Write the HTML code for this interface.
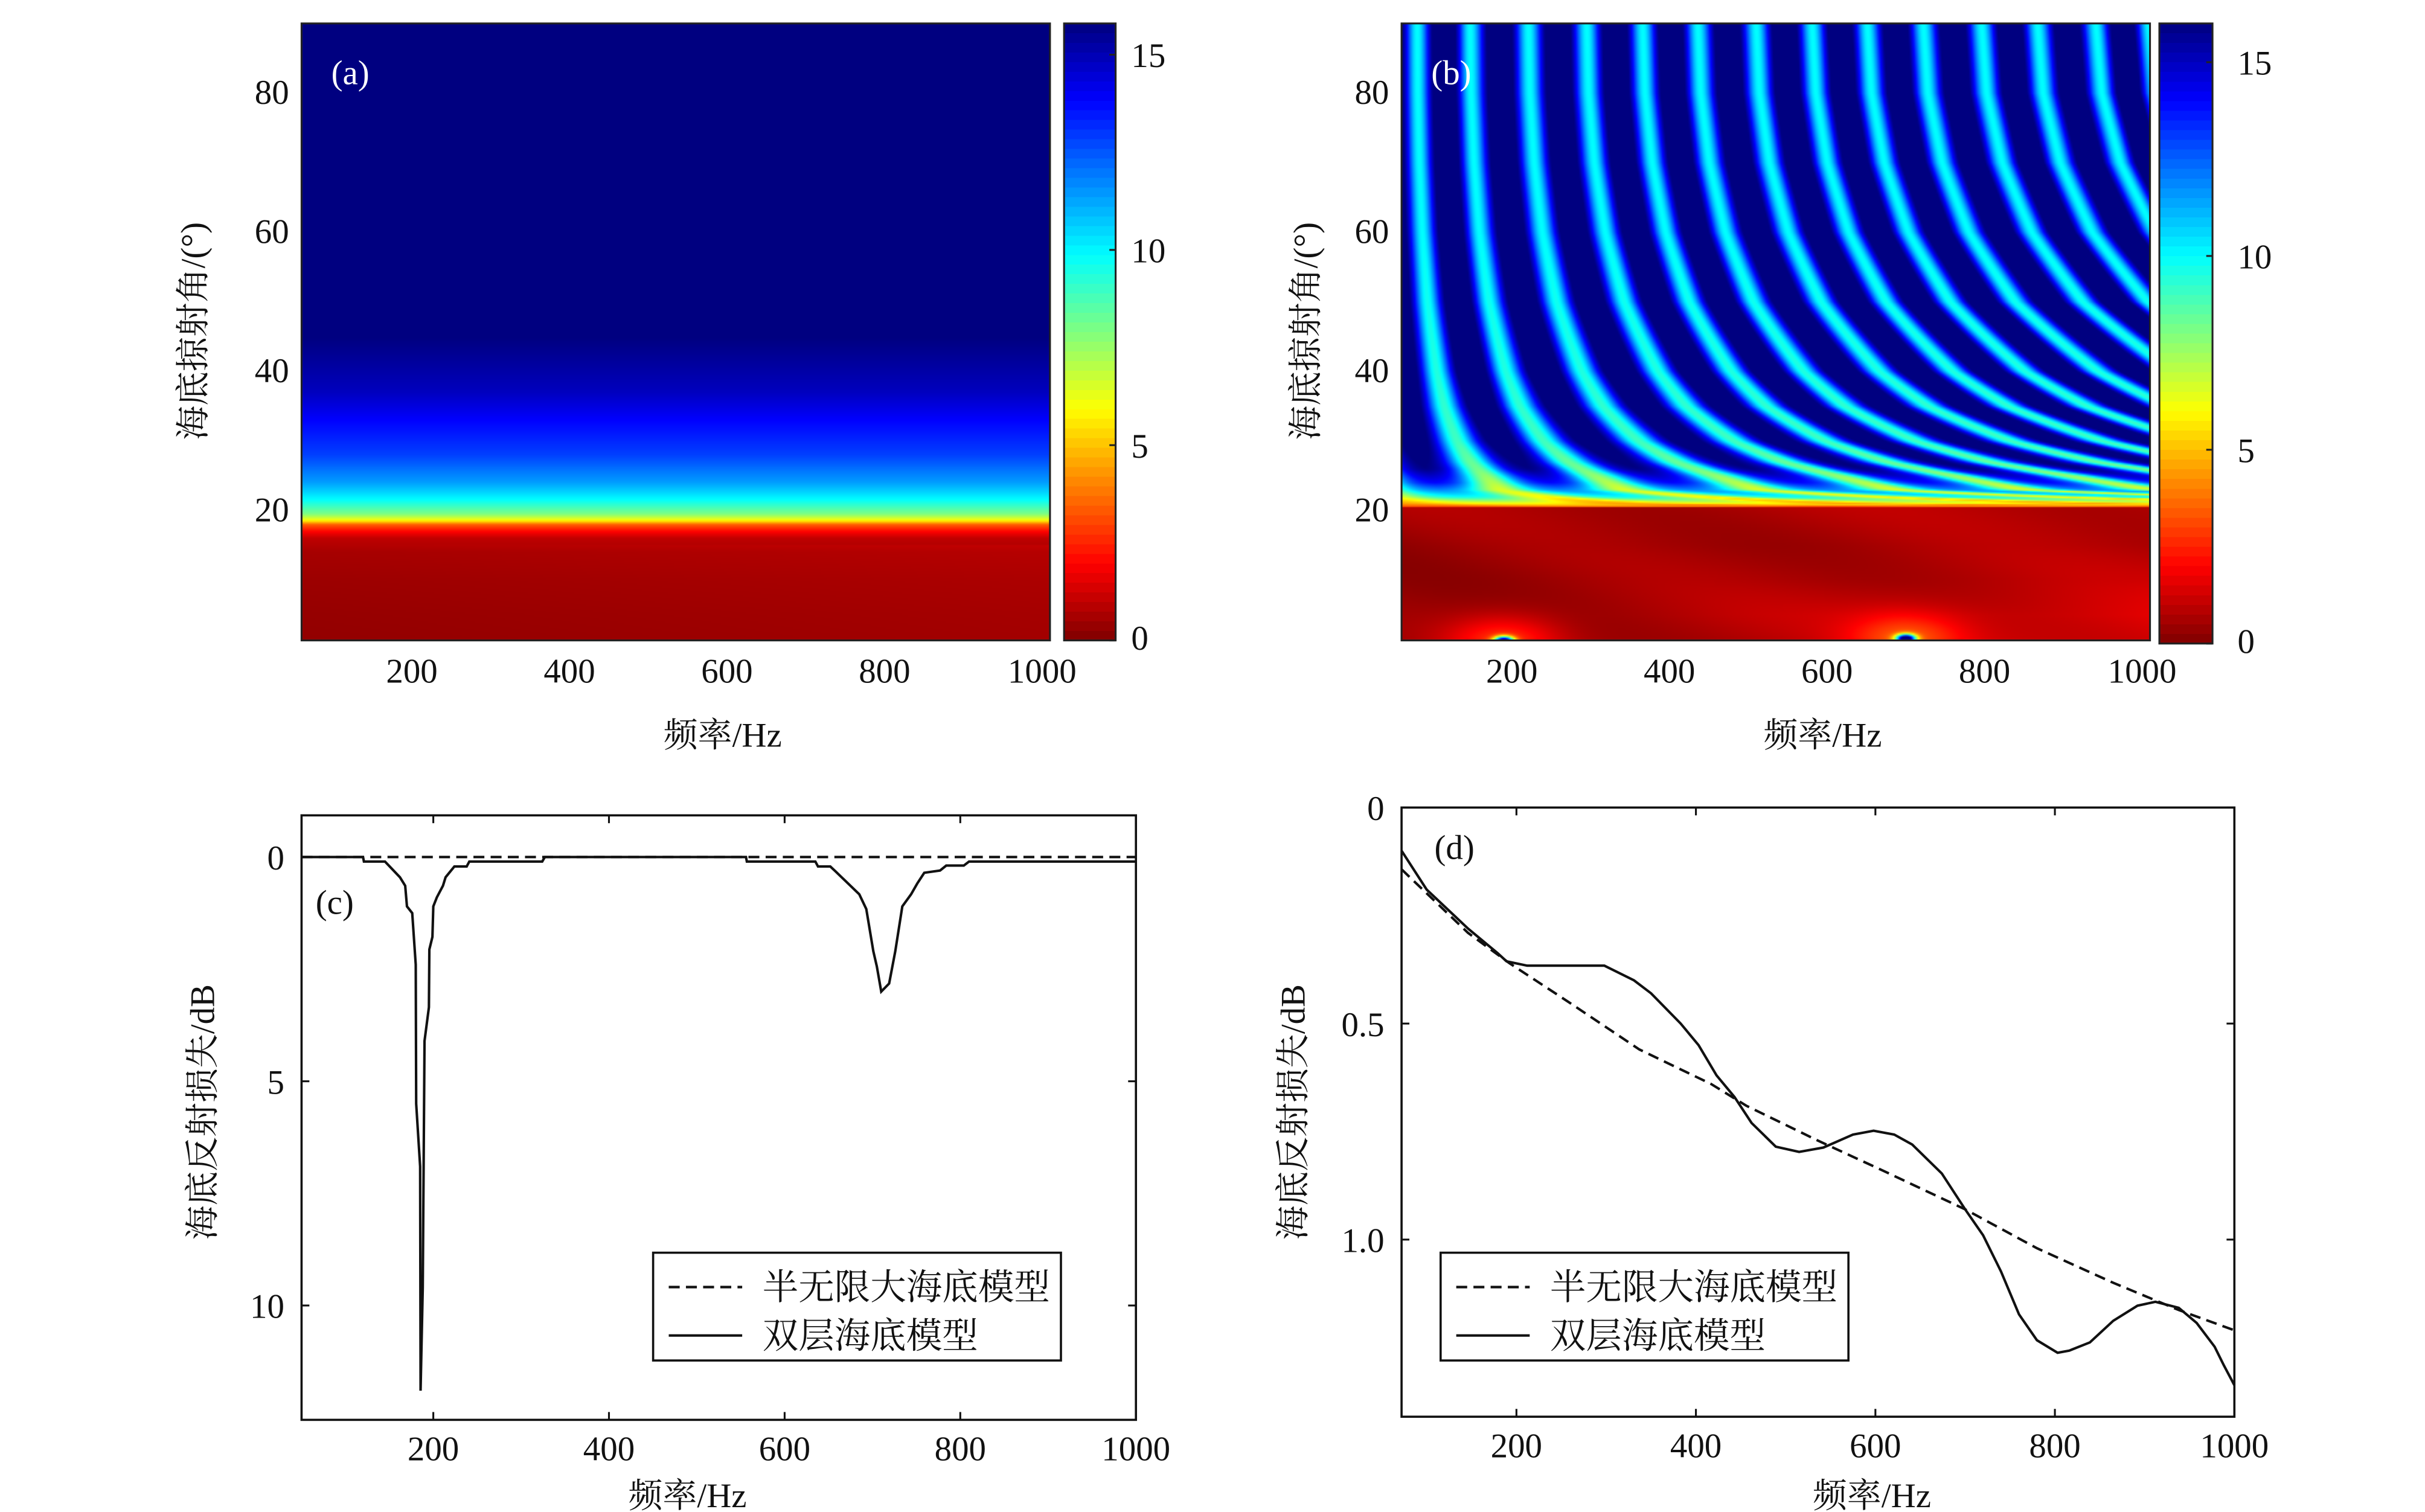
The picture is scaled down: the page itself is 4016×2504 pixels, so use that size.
<!DOCTYPE html>
<html><head><meta charset="utf-8"><style>
html,body{margin:0;padding:0;background:#fff}
#fig{position:relative;width:4016px;height:2504px;background:#fff;overflow:hidden}
canvas{position:absolute;image-rendering:auto}
svg{position:absolute;left:0;top:0}
text{font-family:"Liberation Serif","Noto Serif CJK SC",serif;fill:#111}
</style></head><body>
<div id="fig">
<svg id="ov" width="4016" height="2504" viewBox="0 0 1552 968" preserveAspectRatio="none"></svg>
</div>
<script>
// ---------- data ----------
const aAngles = [1.3, 5, 10, 14, 16, 17, 18, 18.6, 19.5, 21.6, 24, 28, 33, 37, 45, 90];
const aLoss   = [0.3, 0.35, 0.45, 0.6, 1.0, 2.0, 3.5, 6, 8, 10, 11.5, 13, 14, 15, 16, 17];
const bStripeTopHz = [80, 147, 221, 295, 366, 436, 510, 581, 651, 722, 796, 867, 941, 1008];
const bStretchAngles = [20.5, 21, 22, 23, 25, 27, 30, 35, 40, 50, 60, 70, 80, 90];
const bStretch = [0.1, 0.233, 0.334, 0.43, 0.481, 0.541, 0.612, 0.70, 0.765, 0.861, 0.926, 0.968, 0.992, 1];
const bAngles  = [20.5, 21, 22, 24, 26, 30, 40, 60, 90];
const bMinLoss = [3, 4.5, 6, 7.2, 8.2, 9, 9.5, 10, 10];
const bMaxLoss = [3.5, 6, 10, 14, 16, 17, 18, 18, 18];
const bLowAngles = [1, 5, 10, 15, 20.5];
const bLowLossLeft = [0.3, 0.35, 0.35, 0.4, 0.6];
const bLowLossRight = [1.4, 1.5, 1.0, 0.8, 0.9];
const spotHz = [190, 700];
const spotDeg = [1.3, 1.6];
const spotPeak = [15, 16];
const cbTicks = [0, 5, 10, 15];
const aYTicks = [20, 40, 60, 80];
const freqTicks = [200, 400, 600, 800, 1000];
const cHz = [50,120,121,145,162,168,170,176,180,180.5,185,185.5,188,190,195,195.5,199,200,204,211,214,224,238,241,324,327,556,557,635,638,652,658,685,693,697,701,705,710,719,726,734,744,751,759,777,784,804,810,1000];
const cLoss = [0,0,0.1,0.1,0.45,0.64,1.1,1.25,2.4,5.5,6.9,11.9,9.6,4.1,3.35,2.06,1.78,1.1,0.9,0.64,0.45,0.21,0.21,0.1,0.1,0,0,0.1,0.1,0.21,0.21,0.32,0.83,1.16,1.63,2.1,2.44,3.0,2.82,2.1,1.1,0.83,0.59,0.35,0.3,0.19,0.19,0.1,0.1];
const cHalfHz = [50, 1000];
const cHalfLoss = [0, 0];
const cYTicks = [0, 5, 10];
const dHz = [72,100,146,179,189,212,298,331,350,383,403,423,443,462,489,515,542,575,598,621,641,674,700,720,740,760,780,803,816,839,865,892,912,938,958,978,988,1000];
const dLoss = [0.10,0.19,0.28,0.337,0.356,0.366,0.366,0.40,0.43,0.50,0.55,0.62,0.67,0.73,0.785,0.797,0.787,0.757,0.748,0.757,0.78,0.847,0.93,0.99,1.074,1.173,1.233,1.262,1.257,1.238,1.188,1.153,1.144,1.158,1.193,1.248,1.29,1.337];
const dHalfHz = [72,146,192,258,337,417,456,535,608,700,780,865,938,1000];
const dHalfLoss = [0.143,0.29,0.36,0.45,0.56,0.64,0.69,0.77,0.84,0.93,1.02,1.10,1.163,1.21];
const dYTicks = [0, 0.5, 1.0];
const dYLabels = ["0", "0.5", "1.0"];

// ---------- helpers ----------
const S = 4016/1552;
const NS = "http://www.w3.org/2000/svg";
const ov = document.getElementById('ov');
function interp(xs, ys, x){
  if (x <= xs[0]) return ys[0];
  for (let i=1;i<xs.length;i++){ if (x <= xs[i]){ const t=(x-xs[i-1])/(xs[i]-xs[i-1]); return ys[i-1]+t*(ys[i]-ys[i-1]); } }
  return ys[ys.length-1];
}
function clamp(v){return Math.max(0,Math.min(1,v));}
function jet(t){ return [clamp(1.5-Math.abs(4*t-3)), clamp(1.5-Math.abs(4*t-2)), clamp(1.5-Math.abs(4*t-1))].map(c=>Math.round(c*255)); }
function lossColor(v, vmax){ return jet(1 - Math.max(0,Math.min(vmax,v))/vmax); }
function el(tag, attrs, parent){ const e=document.createElementNS(NS,tag); for (const k in attrs) e.setAttribute(k, attrs[k]); (parent||ov).appendChild(e); return e; }
function txt(x,y,s,size,anchor,fill){ const t=el('text',{x:x,y:y,'font-size':size,'text-anchor':anchor||'middle'}); if(fill) t.setAttribute('style','fill:'+fill); t.textContent=s; return t; }
function lin(d0,d1,p0,p1){ return v => p0 + (v-d0)/(d1-d0)*(p1-p0); }
function mkCanvas(x,y,w,h,cw,ch){
  const c=document.createElement('canvas'); c.width=cw; c.height=ch;
  c.style.left=(x*S)+'px'; c.style.top=(y*S)+'px'; c.style.width=(w*S)+'px'; c.style.height=(h*S)+'px';
  document.getElementById('fig').insertBefore(c, ov); return c;
}

// ---------- panel (a) heatmap ----------
const A = {x0:193,x1:672,y0:15,y1:410, fmin:60, fmax:1010, amin:1.3, amax:90};
{
  const c = mkCanvas(A.x0,A.y0,A.x1-A.x0,A.y1-A.y0,240,400);
  
  
  const g=c.getContext('2d'); const img=g.createImageData(240,400);
  for (let j=0;j<400;j++){
    const th = A.amax - (j+0.5)/400*(A.amax-A.amin);
    for (let i=0;i<240;i++){
      const f = A.fmin + (i+0.5)/240*(A.fmax-A.fmin);
      const v = interp(aAngles,aLoss,th) + (th<15 ? 0.25*(f-A.fmin)/(A.fmax-A.fmin) : 0);
      const col = lossColor(v,16); const k=(j*240+i)*4;
      img.data[k]=col[0]; img.data[k+1]=col[1]; img.data[k+2]=col[2]; img.data[k+3]=255;
    }
  }
  g.putImageData(img,0,0);
}
// ---------- panel (b) heatmap ----------
const B = {x0:897,x1:1376,y0:15,y1:410, fmin:60, fmax:1010, amin:1.3, amax:90};
const thc = 20.5;
function stripePhase(u){
  const n=bStripeTopHz.length;
  if (u <= bStripeTopHz[0]) return (u-bStripeTopHz[0])/(bStripeTopHz[1]-bStripeTopHz[0]);
  if (u >= bStripeTopHz[n-1]) return (n-1)+(u-bStripeTopHz[n-1])/(bStripeTopHz[n-1]-bStripeTopHz[n-2]);
  for (let k=1;k<n;k++) if (u<=bStripeTopHz[k]) return (k-1)+(u-bStripeTopHz[k-1])/(bStripeTopHz[k]-bStripeTopHz[k-1]);
}
{
  const W=480,H=420;
  const c = mkCanvas(B.x0,B.y0,B.x1-B.x0,B.y1-B.y0,W,H);
  
  
  const g=c.getContext('2d'); const img=g.createImageData(W,H);
  for (let j=0;j<H;j++){
    const th = B.amax - (j+0.5)/H*(B.amax-B.amin);
    for (let i=0;i<W;i++){
      const f = B.fmin + (i+0.5)/W*(B.fmax-B.fmin);
      let v;
      if (th > thc){
        const gg = interp(bStretchAngles,bStretch,th);
        const ph = stripePhase(f*gg);
        const d = Math.abs(ph - Math.round(ph));
        const lo = interp(bAngles,bMinLoss,th), hi = interp(bAngles,bMaxLoss,th);
        v = lo + (hi-lo)*(1-Math.exp(-(d/0.24)*(d/0.24)));
      } else {
        const t=(f-B.fmin)/(B.fmax-B.fmin);
        v = interp(bLowAngles,bLowLossLeft,th)*(1-t) + interp(bLowAngles,bLowLossRight,th)*t;
        v += 0.25*Math.sin(f/90 + th/3);
        for (let k=0;k<spotHz.length;k++){
          const df=f-spotHz[k], dt=th-spotDeg[k];
          v += spotPeak[k]*Math.exp(-(df/12)*(df/12)-(dt/0.6)*(dt/0.6));
          v += 2.2*Math.exp(-(df/70)*(df/70)-(dt/3.5)*(dt/3.5));
        }
      }
      const col = lossColor(v,16); const k=(j*W+i)*4;
      img.data[k]=col[0]; img.data[k+1]=col[1]; img.data[k+2]=col[2]; img.data[k+3]=255;
    }
  }
  g.putImageData(img,0,0);
}
// ---------- colorbars ----------
function colorbar(name,x0,x1,y0,y1,vmax,labelX){
  const c = mkCanvas(x0,y0,x1-x0,y1-y0,1,64);
  
  
  c.style.imageRendering='pixelated';
  const g=c.getContext('2d');
  for (let j=0;j<64;j++){ const v=vmax*(1-(j+0.5)/64); const col=lossColor(v,vmax); g.fillStyle='rgb('+col.join(',')+')'; g.fillRect(0,j,1,1); }
  el('rect',{x:x0,y:y0,width:x1-x0,height:y1-y0,fill:'none',stroke:'#222','stroke-width':1.2});
  const cy = lin(0,vmax,y1,y0);
  for (const v of cbTicks){
    const yy=cy(v);
    el('line',{x1:x1-4,x2:x1,y1:yy,y2:yy,stroke:'#222','stroke-width':1.2});
    const t=txt(labelX,Math.min(yy+8,y1+6),String(v),22,'start');
    
    
  }
}
colorbar('colorbar-a',681,714,15,410,15.8,724);
colorbar('colorbar-b',1382,1416,15,412,16,1432);

function heatAxes(P,ylabX,tag){
  el('rect',{x:P.x0,y:P.y0,width:P.x1-P.x0,height:P.y1-P.y0,fill:'none',stroke:'#222','stroke-width':1.2});
  const X=lin(P.fmin,P.fmax,P.x0,P.x1), Y=lin(P.amin,P.amax,P.y1,P.y0);
  for (const f of freqTicks){ const t=txt(X(f),437,String(f),22,'middle');   }
  for (const a of aYTicks){ const t=txt(P.x0-8,Y(a)+7,String(a),22,'end');   }
  const xl=txt((P.x0+P.x1)/2+30,478,'频率/Hz',22,'middle');
  
  
  const yl=txt(0,0,'海底掠射角/(°)',22,'middle'); yl.setAttribute('transform','translate('+ylabX+',212) rotate(-90)');
  
  
  const pl=txt(P.x0+19,54,tag,22,'start','#fff');
  
  
}
heatAxes(A,131,'(a)');
heatAxes(B,843,'(b)');

// ---------- line panels ----------
function linePanel(P, hz, loss, hHz, hLoss, yTicks, yLabels, tag, tagXY, ylabX, legX, name, xlabX){
  const X=lin(P.fmin,P.fmax,P.x0,P.x1), Y=lin(P.lmin,P.lmax,P.y0,P.y1);
  const g=el('g',{});
  
  
  el('rect',{x:P.x0,y:P.y0,width:P.x1-P.x0,height:P.y1-P.y0,fill:'#fff',stroke:'#111','stroke-width':1.4},g);
  for (const f of freqTicks){
    const xx=X(f);
    el('line',{x1:xx,x2:xx,y1:P.y1,y2:P.y1-5,stroke:'#111','stroke-width':1.2},g);
    el('line',{x1:xx,x2:xx,y1:P.y0,y2:P.y0+5,stroke:'#111','stroke-width':1.2},g);
    const t=txt(xx,P.y1+26,String(f),22,'middle');  
  }
  yTicks.forEach((v,i)=>{
    const yy=Y(v);
    el('line',{x1:P.x0,x2:P.x0+5,y1:yy,y2:yy,stroke:'#111','stroke-width':1.2},g);
    el('line',{x1:P.x1,x2:P.x1-5,y1:yy,y2:yy,stroke:'#111','stroke-width':1.2},g);
    const t=txt(P.x0-11,yy+8,yLabels[i],22,'end');  
  });
  const hp=el('polyline',{points:hHz.map((f,i)=>X(f)+','+Y(hLoss[i])).join(' '),fill:'none',stroke:'#111','stroke-width':1.6,'stroke-dasharray':'7,4'},g);
  
  
  const sp=el('polyline',{points:hz.map((f,i)=>X(f)+','+Y(loss[i])).join(' '),fill:'none',stroke:'#111','stroke-width':1.6},g);
  
  
  const pl=txt(tagXY[0],tagXY[1],tag,22,'start');  
  const xl=txt(xlabX,965,'频率/Hz',22,'middle');
  
  
  const yl=txt(0,0,'海底反射损失/dB',22,'middle'); yl.setAttribute('transform','translate('+ylabX+',712) rotate(-90)');
  
  
  const lg=el('g',{},g);
  
  
  el('rect',{x:legX,y:802,width:261,height:69,fill:'#fff',stroke:'#111','stroke-width':1.4},lg);
  el('line',{x1:legX+10,x2:legX+57,y1:824,y2:824,stroke:'#111','stroke-width':1.6,'stroke-dasharray':'7,4'},lg);
  el('line',{x1:legX+10,x2:legX+57,y1:855,y2:855,stroke:'#111','stroke-width':1.6},lg);
  const l1=el('text',{x:legX+70,y:832,'font-size':23},lg); l1.textContent='半无限大海底模型';
  
  
  const l2=el('text',{x:legX+70,y:863,'font-size':23},lg); l2.textContent='双层海底模型';
  
  
}
linePanel({x0:193,x1:727,y0:522,y1:909,fmin:50,fmax:1000,lmin:-0.93,lmax:12.55},
  cHz,cLoss,cHalfHz,cHalfLoss,cYTicks,cYTicks.map(String),'(c)',[202,585],137,418,'panel-c',440);
linePanel({x0:897,x1:1430,y0:517,y1:907,fmin:72,fmax:1000,lmin:0,lmax:1.41},
  dHz,dLoss,dHalfHz,dHalfLoss,dYTicks,dYLabels,'(d)',[918,550],835,922,'panel-d',1198);
</script>
</body></html>
